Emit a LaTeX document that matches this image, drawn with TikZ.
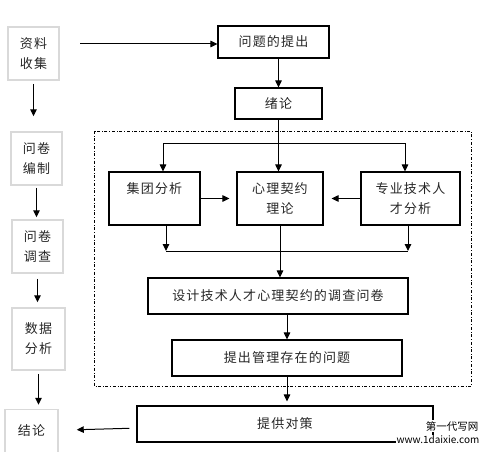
\documentclass[tikz,border=0pt]{standalone}
\usepackage{fontspec}
\newfontfamily\cjk[LetterSpace=9]{Noto Sans CJK SC}
\newfontfamily\cjkw{Noto Sans CJK SC}
\usetikzlibrary{arrows.meta}

\begin{document}
\begin{tikzpicture}[x=1pt, y=-1pt,
    every node/.style = {font=\cjk\fontsize{13}{20}\selectfont,
      align=center, text=black!85, inner sep=0pt},
    side/.style = {draw=black!15, line width=1.5pt,
      minimum width=51pt, minimum height=53pt},
    box/.style = {draw, line width=1.1pt, minimum height=36pt},
    arr/.style = {-{Triangle[length=7pt,width=6.5pt]}, line width=1pt},
    wmark/.style = {fill=white, inner sep=1pt, text=black}]
  \useasboundingbox (0,0) rectangle (495,452);
  % left column
  \node[side] (zl) at (33.5,53.5) {资料\\收集};
  \node[side] (wb) at (36.5,158.5) {问卷\\编制};
  \node[side] (wd) at (37.5,246.5) {问卷\\调查};
  \node[side, minimum width=53pt, minimum height=62pt] (sj) at (38.5,339) {数据\\分析};
  \node[side, minimum width=53pt, minimum height=43pt] (jl) at (31.5,431) {结论};
  \draw[arr, shorten <=3pt, shorten >=15pt] (zl) -- (zl |- wb.north);
  \draw[arr, shorten <=2pt, shorten >=2pt] (wb) -- (wb |- wd.north);
  \draw[arr, shorten <=5pt, shorten >=5pt] (wd) -- (wd |- sj.north);
  \draw[arr, shorten <=3pt, shorten >=4pt] (sj) -- (sj |- jl.north);
  % main column
  \node[box, minimum width=111pt, minimum height=32pt] (wt) at (273.5,42) {问题的提出};
  \node[box, minimum width=87pt, minimum height=31pt] (xl) at (278.5,103.5) {绪论};
  \node[box, minimum width=91pt, minimum height=53pt] (jt) at (154.5,198.5) {集团分析\\~};
  \node[box, minimum width=86pt, minimum height=53pt] (xq) at (280,198.5) {心理契约\\理论};
  \node[box, minimum width=99pt, minimum height=53pt] (zy) at (410.5,198.5) {专业技术人\\才分析};
  \node[box, minimum width=260pt] (dc) at (278,296) {设计技术人才心理契约的调查问卷};
  \node[box, minimum width=230pt] (tc) at (287,358) {提出管理存在的问题};
  \node[box, minimum width=296pt] (tg) at (285,424) {提供对策};
  \draw[dash dot, line width=0.8pt] (94,131) rectangle (471,386);
  \coordinate (s1) at (80,44);
  \coordinate (b1) at (163,143);
  \coordinate (b2) at (405,143);
  \coordinate (m1) at (166,251);
  \coordinate (m2) at (408,251);
  \draw[arr] (s1) -- (s1 -| wt.west);
  \draw[arr] (xl.north |- wt.south) -- (xl.north);
  \draw[arr] (xl.south) -- (xl.south |- xq.north);
  \draw[line width=1pt] (b1) -- (b2);
  \draw[arr] (b1) -- (b1 |- jt.north);
  \draw[arr] (b2) -- (b2 |- zy.north);
  \draw[arr, shorten >=7pt] (jt) -- (xq);
  \draw[arr, shorten >=8pt] (zy) -- (xq);
  \draw[line width=1pt] (m1) -- (m2);
  \draw[arr] (m1 |- jt.south) -- (m1);
  \draw[arr] (m2 |- zy.south) -- (m2);
  \draw[arr] (xq.south) -- (xq.south |- dc.north);
  \draw[arr] (tc.north |- dc.south) -- (tc.north);
  \draw[arr, shorten >=4pt] (tc.south) -- (tc.south |- tg.north);
  \draw[arr, shorten <=7pt, shorten >=18pt] (tg) -- (jl);
  % watermark
  \node[wmark, font=\cjkw\fontsize{10.5}{12}\selectfont] (w1) at (452,426) {第一代写网};
  \node[wmark, font=\cjkw\fontsize{10}{12}\selectfont] (w2) at (438,440) {www.1daixie.com};
\end{tikzpicture}
\end{document}
